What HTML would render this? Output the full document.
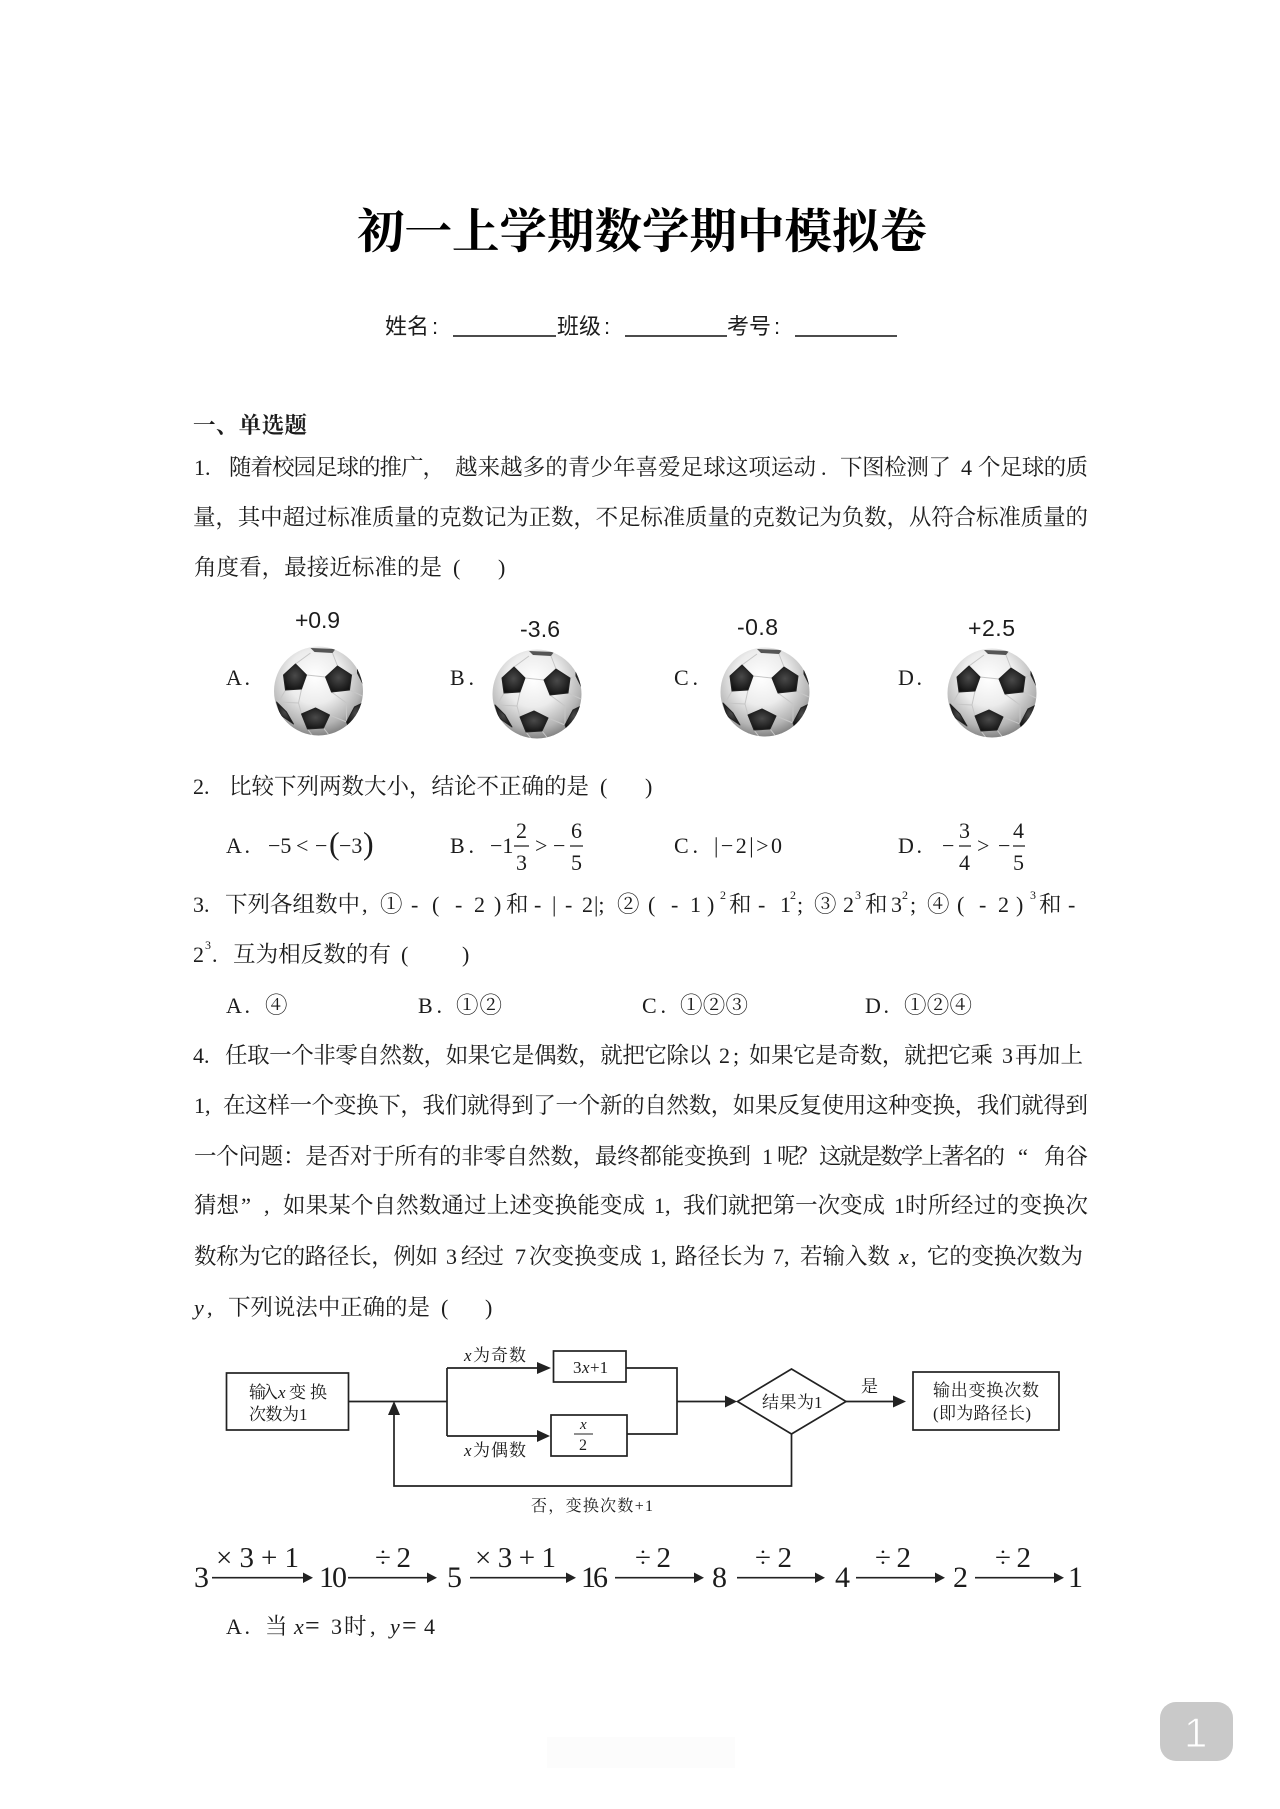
<!DOCTYPE html>
<html lang="zh"><head><meta charset="utf-8"><title>初一上学期数学期中模拟卷</title>
<style>
html,body{margin:0;padding:0;background:#fff}
svg{display:block}
text{fill:#1c1c1c;white-space:pre}
.c{font:22.5px "Liberation Serif","Noto Serif CJK SC",serif}
.l{font:22px "Liberation Serif","Noto Serif CJK SC",serif}
.i{font:italic 22px "Liberation Serif",serif}
.s{font:12px "Liberation Serif",serif}
.t{font:700 47.5px "Liberation Serif","Noto Serif CJK SC",serif;fill:#000}
.n{font:22px "Liberation Sans","Noto Sans CJK SC",sans-serif}
.h{font:700 22.5px "Liberation Serif","Noto Serif CJK SC",serif}
.b{font:23px "Liberation Sans",sans-serif}
.f{font:17px "Liberation Serif","Noto Serif CJK SC",serif}
.fi{font:italic 17px "Liberation Serif",serif}
.m{font:30px "Liberation Serif",serif}
.m2{font:29px "Liberation Serif",serif}
.g{stroke:#222;fill:none;stroke-width:1.7}
</style></head>
<body>
<svg xmlns="http://www.w3.org/2000/svg" width="1280" height="1809" viewBox="0 0 1280 1809">
<defs>
<radialGradient id="bg" cx="46%" cy="34%" r="68%"><stop offset="0" stop-color="#fff"/><stop offset=".45" stop-color="#ececec"/><stop offset=".8" stop-color="#b4b4b4"/><stop offset="1" stop-color="#7d7d7d"/></radialGradient>
<radialGradient id="dk" cx="50%" cy="45%" r="60%"><stop offset="0" stop-color="#4a4a4a"/><stop offset="1" stop-color="#101010"/></radialGradient>
<clipPath id="cp"><circle cx="0" cy="0" r="44.5"/></clipPath>
<g id="ball">
<circle r="44.5" fill="url(#bg)"/>
<g clip-path="url(#cp)">
<g stroke="#c6c6c6" stroke-width="1" fill="none">
<path d="M-12-16L7-14M-17-2L-20 12L-17 23M13 1L28 12L28 31M-33-1L-40 11M-20 12L-40 11M11 24L28 31M-11 38L-5 46M5 37L12 46M33-16L39-18M31-1L44 5M-23-27L-8-38M19-25L14-38"/>
</g>
<g fill="url(#dk)" stroke="#222" stroke-width="1" stroke-linejoin="round">
<path d="M-35-16L-23-27L-12-16L-17-2L-33-1Z"/>
<path d="M7-14L19-25L33-16L31-1L13 1Z"/>
<path d="M-17 23L-3 17L11 24L5 37L-11 38Z"/>
<path d="M28 31L36 16L46 11L40 28L30 36Z"/>
<path d="M39-27L47-12L45-6L39-18Z"/>
<path d="M-42 11L-32 21L-25 33L-38 24Z"/>
<path d="M-8-43L17-42L14-38L-4-39Z" fill="#555" stroke="none"/>
</g></g></g>
</defs>
<rect width="1280" height="1809" fill="#fff"/>

<text class="t" x="357" y="248" textLength="570" lengthAdjust="spacing">初一上学期数学期中模拟卷</text>

<text class="n" x="385" y="334" textLength="44">姓名</text><text class="n" x="432" y="334">:</text>
<text class="n" x="557" y="334" textLength="44">班级</text><text class="n" x="604" y="334">:</text>
<text class="n" x="727" y="334" textLength="44">考号</text><text class="n" x="774" y="334">:</text>
<path d="M453 336H556M625 336H727M795 336H897" stroke="#111" stroke-width="1.6" fill="none"/>

<text class="h" x="193" y="433" textLength="114">一、单选题</text>

<text class="l" x="194" y="475">1.</text>
<text class="c" x="229" y="475" textLength="216">随着校园足球的推广，</text>
<text class="c" x="455" y="475" textLength="361">越来越多的青少年喜爱足球这项运动</text>
<text class="l" x="821" y="475">.</text>
<text class="c" x="840" y="475" textLength="111">下图检测了</text>
<text class="l" x="961" y="475">4</text>
<text class="c" x="978" y="475" textLength="110">个足球的质</text>
<text class="c" x="193" y="525" textLength="895">量，其中超过标准质量的克数记为正数，不足标准质量的克数记为负数，从符合标准质量的</text>
<text class="c" x="194" y="575" textLength="248">角度看，最接近标准的是</text>
<text class="l" x="453" y="575">(</text><text class="l" x="498" y="575">)</text>

<text class="b" x="295" y="628" textLength="45">+0.9</text>
<text class="b" x="520" y="637" textLength="40">-3.6</text>
<text class="b" x="737" y="635" textLength="41">-0.8</text>
<text class="b" x="968" y="636" textLength="47">+2.5</text>
<text class="l" x="226" y="685" textLength="24">A.</text>
<text class="l" x="450" y="685" textLength="24">B.</text>
<text class="l" x="674" y="685" textLength="24">C.</text>
<text class="l" x="898" y="685" textLength="24">D.</text>
<use href="#ball" x="318.5" y="691"/>
<use href="#ball" x="537" y="694"/>
<use href="#ball" x="765" y="692"/>
<use href="#ball" x="992" y="693"/>

<text class="l" x="193" y="794">2.</text>
<text class="c" x="229" y="794" textLength="360">比较下列两数大小，结论不正确的是</text>
<text class="l" x="600" y="794">(</text><text class="l" x="645" y="794">)</text>

<g>
<text class="l" x="226" y="853" textLength="24">A.</text>
<text class="l" x="268" y="853">−5</text><text class="l" x="296" y="853">&lt;</text><text class="l" x="315" y="853">−</text>
<text class="l" x="329" y="854" style="font-size:32px">(</text><text class="l" x="339" y="853">−3</text><text class="l" x="363" y="854" style="font-size:32px">)</text>

<text class="l" x="450" y="853" textLength="24">B.</text>
<text class="l" x="490" y="853">−1</text><text class="l" x="516" y="838">2</text><path d="M514 846H529M570 846H583M959 846H971M1013 846H1025" stroke="#222" stroke-width="1.2"/>
<text class="l" x="516" y="870">3</text><text class="l" x="535" y="853">&gt;</text><text class="l" x="553" y="853">−</text>
<text class="l" x="571" y="838">6</text><text class="l" x="571" y="870">5</text>

<text class="l" x="674" y="853" textLength="24">C.</text>
<text class="l" x="714" y="853" textLength="68">|−2|&gt;0</text>

<text class="l" x="898" y="853" textLength="24">D.</text>
<text class="l" x="942" y="853">−</text><text class="l" x="959" y="838">3</text><text class="l" x="959" y="870">4</text>
<text class="l" x="977" y="853">&gt;</text><text class="l" x="998" y="853">−</text>
<text class="l" x="1013" y="838">4</text><text class="l" x="1013" y="870">5</text>
</g>

<g>
<text class="l" x="193" y="912">3.</text>
<text class="c" x="225" y="912" textLength="135">下列各组数中</text><text class="l" x="362" y="912">,</text>
<text class="c" x="380" y="912">①</text><text class="l" x="411" y="912">-</text><text class="l" x="432" y="912">(</text><text class="l" x="455" y="912">-</text><text class="l" x="474" y="912">2</text><text class="l" x="494" y="912">)</text>
<text class="c" x="506" y="912">和</text><text class="l" x="534" y="912">-</text><text class="l" x="552" y="912">|</text><text class="l" x="565" y="912">-</text><text class="l" x="582" y="912">2</text><text class="l" x="594" y="912">|;</text>
<text class="c" x="617" y="912">②</text><text class="l" x="648" y="912">(</text><text class="l" x="671" y="912">-</text><text class="l" x="690" y="912">1</text><text class="l" x="707" y="912">)</text>
<text class="s" x="720" y="899">2</text><text class="c" x="729" y="912">和</text><text class="l" x="758" y="912">-</text><text class="l" x="780" y="912">1</text><text class="s" x="790" y="899">2</text><text class="l" x="797" y="912">;</text>
<text class="c" x="814" y="912">③</text><text class="l" x="843" y="912">2</text><text class="s" x="855" y="899">3</text><text class="c" x="865" y="912">和</text><text class="l" x="891" y="912">3</text><text class="s" x="902" y="899">2</text><text class="l" x="910" y="912">;</text>
<text class="c" x="927" y="912">④</text><text class="l" x="957" y="912">(</text><text class="l" x="979" y="912">-</text><text class="l" x="998" y="912">2</text><text class="l" x="1016" y="912">)</text>
<text class="s" x="1030" y="899">3</text><text class="c" x="1039" y="912">和</text><text class="l" x="1068" y="912">-</text>

<text class="l" x="193" y="962">2</text><text class="s" x="205" y="949">3</text><text class="l" x="212" y="962">.</text>
<text class="c" x="233" y="962" textLength="158">互为相反数的有</text>
<text class="l" x="401" y="962">(</text><text class="l" x="462" y="962">)</text>

<text class="l" x="226" y="1013" textLength="24">A.</text><text class="c" x="265" y="1013">④</text>
<text class="l" x="418" y="1013" textLength="24">B.</text><text class="c" x="456" y="1013" textLength="46">①②</text>
<text class="l" x="642" y="1013" textLength="24">C.</text><text class="c" x="680" y="1013" textLength="68">①②③</text>
<text class="l" x="865" y="1013" textLength="24">D.</text><text class="c" x="904" y="1013" textLength="68">①②④</text>
</g>

<g>
<text class="l" x="193" y="1063">4.</text>
<text class="c" x="225" y="1063" textLength="486">任取一个非零自然数，如果它是偶数，就把它除以</text>
<text class="l" x="719" y="1063">2</text><text class="l" x="733" y="1063">;</text>
<text class="c" x="749" y="1063" textLength="244">如果它是奇数，就把它乘</text>
<text class="l" x="1002" y="1063">3</text><text class="c" x="1015" y="1063" textLength="68">再加上</text>

<text class="l" x="194" y="1113">1,</text>
<text class="c" x="223" y="1113" textLength="865">在这样一个变换下，我们就得到了一个新的自然数，如果反复使用这种变换，我们就得到</text>

<text class="c" x="194" y="1164" textLength="557">一个问题：是否对于所有的非零自然数，最终都能变换到</text>
<text class="l" x="762" y="1164">1</text><text class="c" x="777" y="1164" textLength="42">呢？</text>
<text class="c" x="819" y="1164" textLength="186">这就是数学上著名的</text>
<text class="c" x="1018" y="1164">“</text><text class="c" x="1044" y="1164" textLength="44">角谷</text>

<text class="c" x="194" y="1213" textLength="45">猜想</text><text class="c" x="241" y="1213">”</text><text class="l" x="264" y="1213">,</text>
<text class="c" x="283" y="1213" textLength="362">如果某个自然数通过上述变换能变成</text>
<text class="l" x="654" y="1213">1,</text>
<text class="c" x="683" y="1213" textLength="202">我们就把第一次变成</text>
<text class="l" x="894" y="1213">1</text>
<text class="c" x="905" y="1213" textLength="183">时所经过的变换次</text>

<text class="c" x="194" y="1264" textLength="244">数称为它的路径长，例如</text>
<text class="l" x="446" y="1264">3</text><text class="c" x="461" y="1264" textLength="43">经过</text>
<text class="l" x="515" y="1264">7</text><text class="c" x="529" y="1264" textLength="113">次变换变成</text>
<text class="l" x="650" y="1264">1,</text><text class="c" x="675" y="1264" textLength="90">路径长为</text>
<text class="l" x="773" y="1264">7,</text><text class="c" x="800" y="1264" textLength="90">若输入数</text>
<text class="i" x="899" y="1264">x</text><text class="l" x="911" y="1264">,</text>
<text class="c" x="927" y="1264" textLength="156">它的变换次数为</text>

<text class="i" x="194" y="1315">y</text><text class="l" x="207" y="1315">,</text>
<text class="c" x="228" y="1315" textLength="202">下列说法中正确的是</text>
<text class="l" x="441" y="1315">(</text><text class="l" x="485" y="1315">)</text>
</g>

<!-- flowchart -->
<rect class="g" x="226.5" y="1373" width="122" height="57"/>
<rect class="g" x="553.5" y="1351" width="72.5" height="31"/>
<rect class="g" x="551" y="1415" width="76" height="41"/>
<path class="g" d="M791.5 1369L846 1401.5L791.5 1434L737.5 1401.5Z"/>
<rect class="g" x="913" y="1372" width="146" height="58"/>
<path class="g" d="M348 1401.5H447M447 1368V1436M447 1368H540M447 1436H540M626 1368H677V1434H627M677 1401.5H728M846 1401.5H895M791.5 1434V1486H394V1412"/>
<path d="M551 1368L537 1362V1374ZM550 1436L537 1430V1442ZM737 1401.5L725 1395.5V1407.5ZM906 1401.5L893 1395.5V1407.5ZM394 1401L388 1415H400Z" fill="#222"/>

<text class="f" x="249" y="1398" textLength="29">输入</text><text class="fi" x="278" y="1398">x</text><text class="f" x="289" y="1398" textLength="38">变换</text>
<text class="f" x="249" y="1420" textLength="50">次数为</text><text class="f" x="299" y="1420">1</text>
<text class="fi" x="464" y="1361">x</text><text class="f" x="473" y="1361" textLength="53">为奇数</text>
<text class="fi" x="464" y="1456">x</text><text class="f" x="473" y="1456" textLength="53">为偶数</text>
<text class="f" x="573" y="1373">3</text><text class="fi" x="582" y="1373">x</text><text class="f" x="590" y="1373">+1</text>
<text class="fi" x="580" y="1429" style="font-size:15px">x</text><path d="M574 1434H593" stroke="#222" stroke-width="1.1"/><text class="f" x="579" y="1450" style="font-size:16px">2</text>
<text class="f" x="762" y="1408" textLength="52">结果为</text><text class="f" x="814" y="1408">1</text>
<text class="f" x="861" y="1392">是</text>
<text class="f" x="933" y="1396" textLength="106">输出变换次数</text>
<text class="f" x="933" y="1419" textLength="98">(即为路径长)</text>
<text class="f" x="531" y="1511" style="font-size:16px" textLength="122">否，变换次数+1</text>

<!-- chain -->
<g>
<text class="m" x="194" y="1587">3</text><text class="m" x="319" y="1587" textLength="28">10</text><text class="m" x="447" y="1587">5</text>
<text class="m" x="581" y="1587" textLength="27">16</text><text class="m" x="712" y="1587">8</text><text class="m" x="835" y="1587">4</text><text class="m" x="953" y="1587">2</text><text class="m" x="1068" y="1587">1</text>
<text class="m2" x="216" y="1567" textLength="83">× 3 + 1</text><text class="m2" x="375" y="1567" textLength="36">÷ 2</text>
<text class="m2" x="475" y="1567" textLength="81">× 3 + 1</text><text class="m2" x="635" y="1567" textLength="36">÷ 2</text>
<text class="m2" x="755" y="1567" textLength="37">÷ 2</text><text class="m2" x="875" y="1567" textLength="36">÷ 2</text><text class="m2" x="995" y="1567" textLength="36">÷ 2</text>
<path d="M212 1577.7H306M348 1577.7H430M470 1577.7H569M615 1577.7H697M737 1577.7H818M856 1577.7H938M975 1577.7H1057" stroke="#222" stroke-width="1.7" fill="none"/>
<path d="M313 1577.7L303 1572.5V1583ZM437 1577.7L427 1572.5V1583ZM576 1577.7L566 1572.5V1583ZM704 1577.7L694 1572.5V1583ZM825 1577.7L815 1572.5V1583ZM945 1577.7L935 1572.5V1583ZM1064 1577.7L1054 1572.5V1583Z" fill="#222"/>
</g>

<text class="l" x="226" y="1634" textLength="24">A.</text>
<text class="c" x="265" y="1634">当</text><text class="i" x="294" y="1634">x</text><text class="l" x="305" y="1634" style="font-size:26px">=</text><text class="l" x="331" y="1634">3</text><text class="c" x="344" y="1634">时</text><text class="l" x="370" y="1634">,</text>
<text class="i" x="390" y="1634">y</text><text class="l" x="402" y="1634" style="font-size:26px">=</text><text class="l" x="424" y="1634">4</text>

<rect x="547" y="1737" width="188" height="31" fill="#fcfcfc"/>
<rect x="1160" y="1702" width="73" height="59" rx="16" fill="#c9c9c9"/>
<text x="1184" y="1747" stroke="#c9c9c9" stroke-width="1" style="font:42px 'Liberation Sans',sans-serif;fill:#fff">1</text>
</svg>
</body></html>
